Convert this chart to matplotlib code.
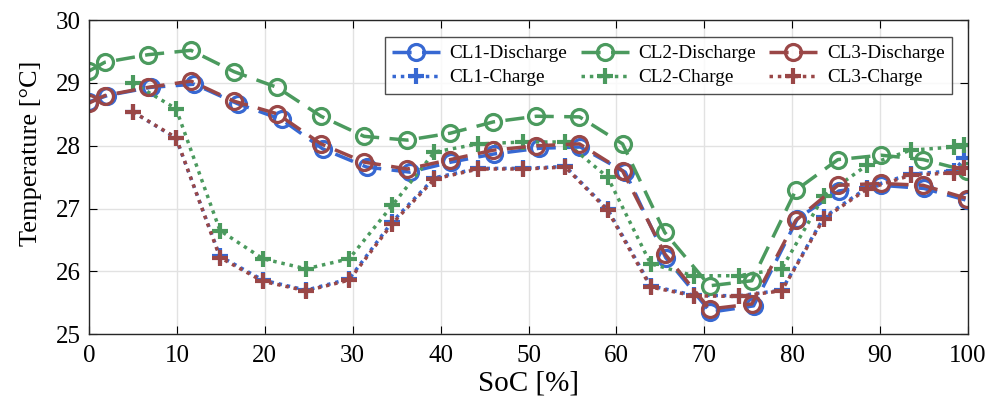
import matplotlib
matplotlib.use('Agg')
import matplotlib.pyplot as plt

plt.rcParams['font.family'] = ['Liberation Serif', 'DejaVu Serif']
plt.rcParams['mathtext.fontset'] = 'stix'

# discharge measurements (SoC in %, temperature in degC)
soc_dis_cl1 = [0, 2.1, 7.0, 12.0, 16.9, 21.9, 26.6, 31.6, 36.5, 41.2, 46.1,
               51.2, 55.9, 61.0, 65.6, 70.7, 75.6, 80.6, 85.3, 90.1, 95.0, 99.9]
soc_dis = [0, 1.8, 6.7, 11.6, 16.5, 21.4, 26.4, 31.3, 36.2, 41.1, 46.0,
           50.9, 55.8, 60.7, 65.5, 70.6, 75.4, 80.4, 85.2, 90.1, 94.9, 99.9]
t_dis_cl1 = [28.70, 28.80, 28.93, 28.98, 28.67, 28.42, 27.95, 27.66, 27.58, 27.74, 27.87,
             27.96, 27.98, 27.58, 26.22, 25.35, 25.45, 26.84, 27.28, 27.37, 27.32, 27.13]
t_dis_cl2 = [29.19, 29.33, 29.45, 29.52, 29.18, 28.93, 28.47, 28.15, 28.09, 28.20, 28.38,
             28.47, 28.46, 28.03, 26.62, 25.77, 25.85, 27.29, 27.78, 27.85, 27.78, 27.60]
t_dis_cl3 = [28.68, 28.80, 28.93, 29.03, 28.71, 28.51, 28.03, 27.74, 27.63, 27.78, 27.93,
             28.00, 28.03, 27.60, 26.28, 25.40, 25.48, 26.81, 27.37, 27.40, 27.37, 27.16]

# charge measurements
soc_chg = [5.0, 9.9, 14.9, 19.8, 24.7, 29.6, 34.5, 39.3, 44.3, 49.4, 54.2,
           59.0, 63.9, 68.8, 73.9, 78.8, 83.6, 88.5, 93.5, 98.4, 99.6]
t_chg_cl1 = [28.54, 28.12, 26.24, 25.86, 25.70, 25.88, 26.79, 27.49, 27.64, 27.64, 27.67,
             26.99, 25.77, 25.62, 25.61, 25.70, 26.86, 27.33, 27.55, 27.60, 27.80]
t_chg_cl2 = [29.00, 28.59, 26.65, 26.20, 26.04, 26.20, 27.05, 27.90, 28.03, 28.06, 28.06,
             27.50, 26.12, 25.93, 25.93, 26.04, 27.20, 27.69, 27.93, 27.98, 28.02]
t_chg_cl3 = [28.54, 28.13, 26.22, 25.84, 25.69, 25.86, 26.76, 27.47, 27.63, 27.63, 27.66,
             26.97, 25.75, 25.61, 25.60, 25.69, 26.84, 27.31, 27.53, 27.57, 27.64]

c_blue = '#3768d2'
c_green = '#4b9a5e'
c_red = '#9a4747'

fig = plt.figure(figsize=(10, 4.12), dpi=100)
ax = fig.add_axes([0.089, 0.189, 0.879, 0.762])

dash = (0, (5.5, 3))
dot = (0, (1, 1.4))
dkw = dict(lw=2.5, marker='o', ms=11.5, mew=2.3, mfc='none')
ckw = dict(lw=2.5, marker='+', ms=11, mew=3)

ax.plot(soc_dis_cl1, t_dis_cl1, ls=dash, color=c_blue, label='CL1-Discharge', **dkw)
ax.plot(soc_chg, t_chg_cl1, ls=dot, color=c_blue, label='CL1-Charge', **ckw)
ax.plot(soc_dis, t_dis_cl2, ls=dash, color=c_green, label='CL2-Discharge', **dkw)
ax.plot(soc_chg, t_chg_cl2, ls=dot, color=c_green, label='CL2-Charge', **ckw)
ax.plot(soc_dis, t_dis_cl3, ls=dash, color=c_red, label='CL3-Discharge', **dkw)
ax.plot(soc_chg, t_chg_cl3, ls=dot, color=c_red, label='CL3-Charge', **ckw)

ax.set_xlim(0, 100)
ax.set_ylim(25, 30)
ax.set_xticks(range(0, 101, 10))
ax.set_yticks(range(25, 31))
ax.grid(True, color='#e2e2e2', lw=1)
ax.set_axisbelow(True)
ax.tick_params(direction='in', top=True, right=True, length=6, labelsize=18)
ax.tick_params(axis='x', pad=8)
ax.tick_params(axis='y', pad=6)
for s in ax.spines.values():
    s.set_color('#262626')
    s.set_linewidth(1)

ax.set_xlabel('SoC [%]', fontsize=21, labelpad=2)
ax.set_ylabel('Temperature [°C]', fontsize=19)
ax.yaxis.set_label_coords(-0.054, 0.576)

leg = ax.legend(ncol=3, loc='upper right', bbox_to_anchor=(0.982, 0.946),
                borderaxespad=0, fontsize=13.8, frameon=True, fancybox=False,
                edgecolor='#222222', handlelength=2.5, handletextpad=0.5,
                columnspacing=0.7, borderpad=0.4, labelspacing=0.35)
leg.get_frame().set_linewidth(1)

fig.savefig('out.png', dpi=100)
